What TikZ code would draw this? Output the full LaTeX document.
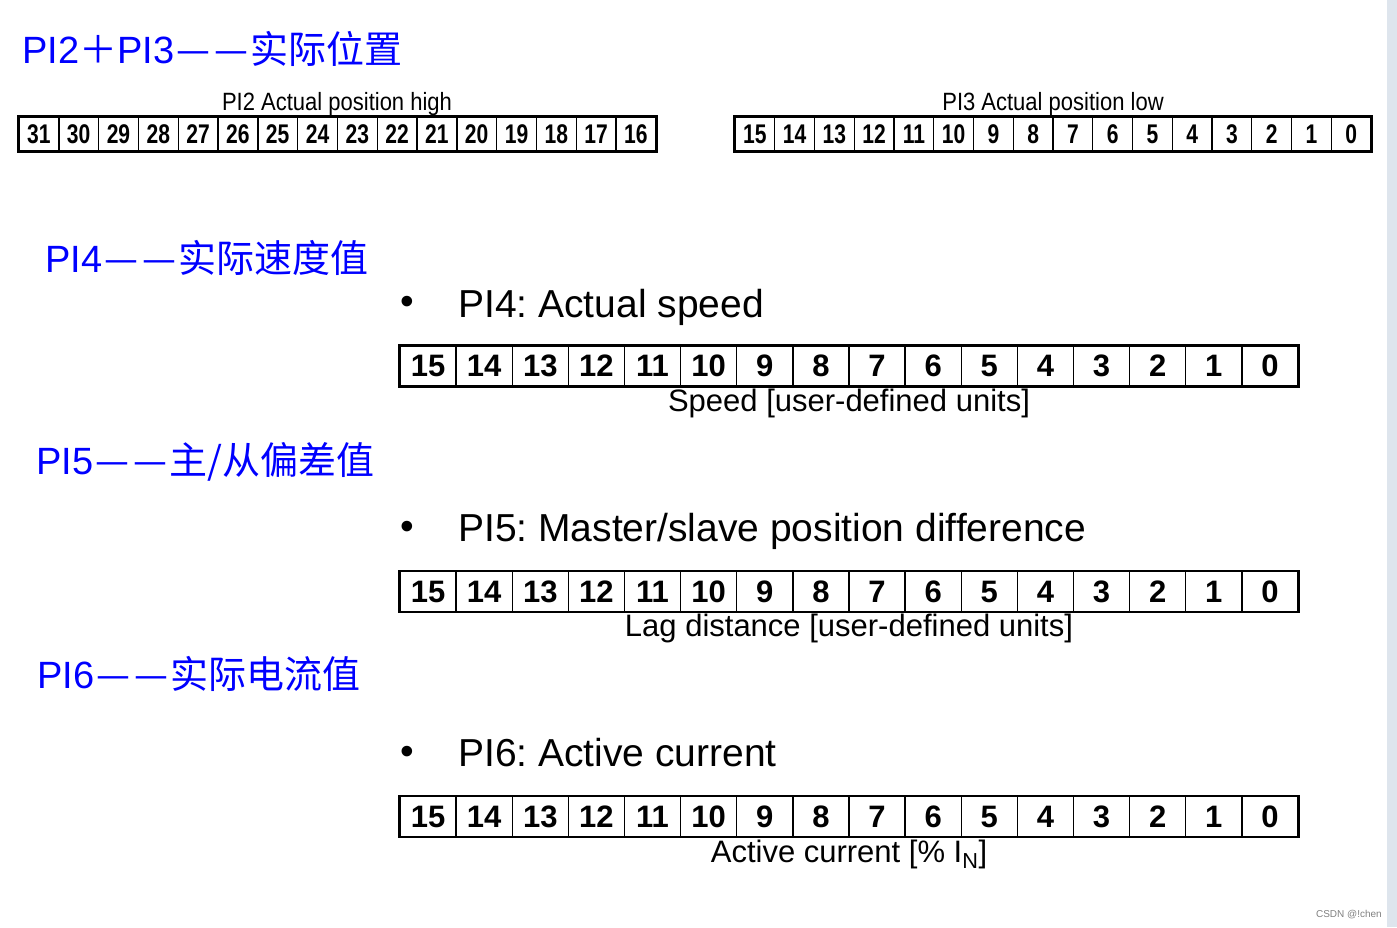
\documentclass[tikz,border=0pt]{standalone}
\usepackage{fontspec}
\setmainfont{Liberation Sans}
\newfontfamily\cjk{Noto Sans CJK SC}
\newfontfamily\etroite[FakeStretch=0.78]{Liberation Sans}
\newfontfamily\mince[FakeStretch=0.88]{Liberation Sans}
\definecolor{titrebleu}{RGB}{0,0,255}
\definecolor{barre}{RGB}{222,229,237}
\newcommand{\tiret}{\makebox[38pt]{\cjk —}}
\frenchspacing
\begin{document}
\begin{tikzpicture}[x=1pt,y=-1pt]
	% Dimensions (MODIFIABLES)
	\def\LargeurA{39.8pt}
	\def\LargeurB{56.125pt}
	% Styles (MODIFIABLES)
	\tikzstyle{titre}=[anchor=base west, inner sep=0pt, text=titrebleu, font=\fontsize{38}{40}\selectfont]
	\tikzstyle{puce}=[anchor=base west, inner sep=0pt, font=\fontsize{39}{42}\selectfont]
	\tikzstyle{caseA}=[draw, line width=1.4pt, inner sep=0pt, minimum width=\LargeurA, minimum height=34pt, font=\etroite\bfseries\fontsize{27}{28}\selectfont]
	\tikzstyle{caseB}=[draw, line width=1.4pt, inner sep=0pt, minimum width=\LargeurB, minimum height=39.5pt, font=\bfseries\fontsize{31}{32}\selectfont]
	\tikzstyle{cadre}=[line width=2.6pt]
	\tikzstyle{legendeA}=[anchor=base, inner sep=0pt, font=\mince\fontsize{25}{26}\selectfont]
	\tikzstyle{legendeB}=[anchor=base, inner sep=0pt, font=\fontsize{31}{32}\selectfont]
	\useasboundingbox (0,0) rectangle (1397,927);
	\fill[barre] (1387,0) rectangle (1397,927);
	% Titres
	\node[titre] (titreA) at (22,63) {PI2{\cjk ＋}PI3\tiret\tiret{\cjk 实际位置}};
	\node[titre] (titreB) at (45,272) {PI4\tiret\tiret{\cjk 实际速度值}};
	\node[titre] (titreC) at (36,474) {PI5\tiret\tiret{\cjk 主/从偏差值}};
	\node[titre] (titreD) at (37,688) {PI6\tiret\tiret{\cjk 实际电流值}};
	% PI2 / PI3
	\node[legendeA] (legHaut) at (337,110) {PI2 Actual position high};
	\node[legendeA] (legBas) at (1053,110) {PI3 Actual position low};
	\foreach \i in {0,...,15}{
		\pgfmathtruncatemacro{\n}{31-\i}
		\pgfmathtruncatemacro{\m}{15-\i}
		\node[caseA] (haut-\n) at ({19+(\i+0.5)*39.8},134) {\n};
		\node[caseA] (bas-\m) at ({735+(\i+0.5)*39.75},134) {\m};
	}
	\draw[cadre] (haut-31.north west) rectangle (haut-16.south east);
	\draw[cadre] (bas-15.north west) rectangle (bas-0.south east);
	% PI4, PI5, PI6
	\node[puce, anchor=center] (puceA) at (407,305) {\textbullet};
	\node[puce, anchor=center] (puceB) at (407,530) {\textbullet};
	\node[puce, anchor=center] (puceC) at (407,755) {\textbullet};
	\node[puce] (texteA) at (458,317) {PI4: Actual speed};
	\node[puce] (texteB) at (458,541) {PI5: Master/slave position difference};
	\node[puce] (texteC) at (458,766) {PI6: Active current};
	\foreach \nom/\y in {vit/366, ecart/591.5, cour/816.5}{
		\foreach \i in {0,...,15}{
			\pgfmathtruncatemacro{\m}{15-\i}
			\node[caseB] (\nom-\m) at ({400+(\i+0.5)*56.125},\y) {\m};
		}
		\draw[cadre] (\nom-15.north west) rectangle (\nom-0.south east);
	}
	\node[legendeB] (legVit) at (849,411) {Speed [user-defined units]};
	\node[legendeB] (legEcart) at (849,636) {Lag distance [user-defined units]};
	\node[legendeB] (legCour) at (849,862) {Active current [\% I\textsubscript{N}]};
	% Filigrane
	\node[anchor=base east, inner sep=0pt, text=gray, font=\fontsize{10}{12}\selectfont] (filigrane) at (1382,917) {CSDN @!chen};
\end{tikzpicture}
\end{document}
